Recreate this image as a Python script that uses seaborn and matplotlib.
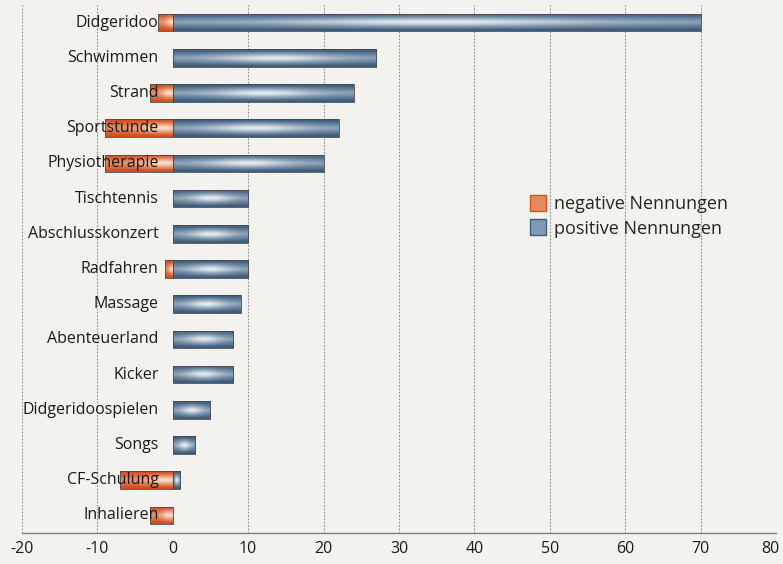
import numpy as np
import pandas as pd
import matplotlib
matplotlib.use("Agg")
import matplotlib.pyplot as plt
import seaborn as sns
from matplotlib.transforms import offset_copy, ScaledTranslation
from matplotlib.lines import Line2D
from matplotlib.colors import to_rgb

categories = ["Didgeridoo", "Schwimmen", "Strand", "Sportstunde", "Physiotherapie",
              "Tischtennis", "Abschlusskonzert", "Radfahren", "Massage", "Abenteuerland",
              "Kicker", "Didgeridoospielen", "Songs", "CF-Schulung", "Inhalieren"]
negative = [-2, 0, -3, -9, -9, 0, 0, -1, 0, 0, 0, 0, 0, -7, -3]
positive = [70, 27, 24, 22, 20, 10, 10, 10, 9, 8, 8, 5, 3, 1, 0]
series_names = ["negative Nennungen", "positive Nennungen"]
x_ticks = [-20, -10, 0, 10, 20, 30, 40, 50, 60, 70, 80]

bg = "#f3f2ee"
orange_dark, orange_light = "#d24a18", "#fbe3cc"
blue_dark, blue_light = "#3a5a7c", "#e6eef5"

sns.set_theme(style="white")
plt.rcParams["font.family"] = ["Open Sans", "DejaVu Sans"]

df = pd.DataFrame({
    "Kategorie": categories * 2,
    "Wert": negative + positive,
    "Serie": [series_names[0]] * len(categories) + [series_names[1]] * len(categories),
})

fig = plt.figure(figsize=(7.83, 5.64), dpi=100, facecolor=bg)
ax = fig.add_axes([0.028, 0.055, 0.963, 0.936], facecolor=bg)

sns.barplot(data=df, x="Wert", y="Kategorie", hue="Serie", hue_order=series_names,
            order=categories, dodge=False, orient="h", width=0.5,
            palette=[orange_dark, blue_dark], saturation=1, legend=False,
            edgecolor="#4a4a4a", linewidth=0.6, ax=ax)


def gradient_image(dark, light, peak_u, width_u):
    ny, nx = 40, 160
    v = np.linspace(-1, 1, ny)[:, None]
    u = np.linspace(0, 1, nx)[None, :]
    tv = np.clip(1 - np.abs(v) ** 1.4, 0, 1)
    tu = 0.6 + 0.4 * np.exp(-((u - peak_u) / width_u) ** 2)
    t = (tv * tu) ** 1.6
    d = np.array(to_rgb(dark))
    l = np.array(to_rgb(light))
    return d[None, None, :] + (l - d)[None, None, :] * t[:, :, None]


for p in list(ax.patches):
    w = p.get_width()
    if abs(w) < 1e-9:
        p.set_visible(False)
        continue
    x0, y0, h = p.get_x(), p.get_y(), p.get_height()
    xl, xr = min(x0, x0 + w), max(x0, x0 + w)
    if xl < 0:
        img = gradient_image(orange_dark, orange_light, 0.85, 0.35)
    else:
        img = gradient_image(blue_dark, blue_light, 0.5, 0.3)
    im = ax.imshow(img, extent=[xl, xr, y0 + h, y0], aspect="auto",
                   interpolation="bilinear", zorder=2.5)
    im.set_clip_path(p)
    p.set_facecolor("none")
    p.set_zorder(3)

ax.set_xlim(-20, 80)
ax.set_ylim(len(categories) - 0.5, -0.5)
ax.set_aspect("auto")

# x axis
ax.set_xticks(x_ticks)
ax.set_xticklabels([str(t) for t in x_ticks], fontsize=11.5, color="#1a1a1a")
ax.set_xlabel("")
ax.set_ylabel("")
ax.xaxis.grid(True, linestyle=(0, (1.5, 1.5)), color="#8f8f8f", linewidth=0.8)
ax.set_axisbelow(True)
for t, gl in zip(x_ticks, ax.get_xgridlines()):
    if t == 0:
        gl.set_visible(False)
ax.tick_params(axis="x", direction="out", length=4, color="#888888", width=0.8, pad=2)
last = ax.get_xticklabels()[-1]
last.set_transform(last.get_transform() + ScaledTranslation(-4 / 72, 0, fig.dpi_scale_trans))

# y axis: spine at zero, no labels, boundary ticks
ax.spines["left"].set_position(("data", 0))
ax.spines["left"].set_visible(False)
ax.spines["top"].set_visible(False)
ax.spines["right"].set_visible(False)
ax.spines["bottom"].set_color("#857f8c")
ax.spines["bottom"].set_linewidth(1.0)
ax.set_yticks(np.arange(len(categories)) + 0.4)
ax.set_yticklabels([])
ax.tick_params(axis="y", direction="inout", length=5, color="#888888", width=0.8)

# category labels
lab_tr = offset_copy(ax.transData, fig=fig, x=-14, y=0, units="dots")
for i, cat in enumerate(categories):
    ax.text(0, i, cat, transform=lab_tr, ha="right", va="center",
            fontsize=11.5, color="#1a1a1a", zorder=6)

handles = [
    Line2D([], [], marker="s", linestyle="none", markersize=11,
           markerfacecolor="#e58a5a", markeredgecolor="#d4501c"),
    Line2D([], [], marker="s", linestyle="none", markersize=11,
           markerfacecolor="#7f9ab4", markeredgecolor="#3e5f80"),
]
fig.legend(handles, series_names, loc="center left", bbox_to_anchor=(0.655, 0.616),
           frameon=False, fontsize=13, handletextpad=0.4, labelspacing=0.35,
           handlelength=1.0)

fig.savefig("out.png", dpi=100, facecolor=bg)
